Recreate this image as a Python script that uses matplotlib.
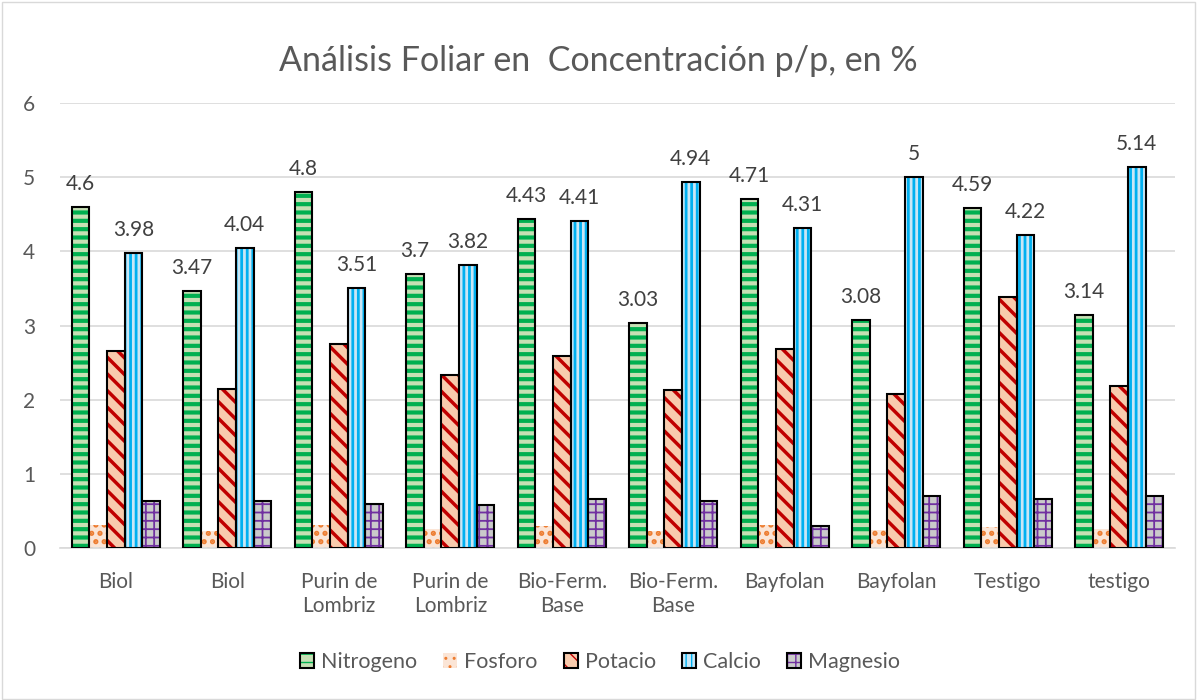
import matplotlib.pyplot as plt
from matplotlib.patches import Patch, Rectangle
import numpy as np

plt.rcParams['font.family'] = ['Lato', 'DejaVu Sans']

categorias = ["Biol", "Biol", "Purin de\nLombriz", "Purin de\nLombriz", "Bio-Ferm.\nBase",
              "Bio-Ferm.\nBase", "Bayfolan", "Bayfolan", "Testigo", "testigo"]
nitrogeno = [4.6, 3.47, 4.8, 3.7, 4.43, 3.03, 4.71, 3.08, 4.59, 3.14]
fosforo = [0.31, 0.23, 0.31, 0.26, 0.29, 0.23, 0.31, 0.24, 0.28, 0.25]
potacio = [2.66, 2.14, 2.75, 2.33, 2.59, 2.13, 2.68, 2.08, 3.38, 2.18]
calcio = [3.98, 4.04, 3.51, 3.82, 4.41, 4.94, 4.31, 5.0, 4.22, 5.14]
magnesio = [0.64, 0.63, 0.60, 0.58, 0.66, 0.63, 0.30, 0.70, 0.66, 0.70]

# nombre, valores, relleno, color trama, trama, grosor trama, borde negro, etiquetas
series = [
    ("Nitrogeno", nitrogeno, "#C6E0B4", "#00B050", "--", 3.0, True, True),
    ("Fosforo", fosforo, "#FBE5D6", "#ED7D31", "..", 2.5, False, False),
    ("Potacio", potacio, "#F8CBAD", "#C00000", "\\\\", 2.5, True, False),
    ("Calcio", calcio, "#C9E6F5", "#00B0F0", "|||", 2.0, True, True),
    ("Magnesio", magnesio, "#CACACA", "#7030A0", "++", 1.3, True, False),
]

fig = plt.figure(figsize=(11.97, 7), dpi=100)
ax = fig.add_axes([60 / 1197, 152 / 700, 1115 / 1197, 445 / 700])

x = np.arange(len(categorias))
w = 0.158
handles = []
for k, (nombre, vals, face, hcol, hatch, hlw, borde, etiquetas) in enumerate(series):
    pos = x + (k - 2) * w
    with plt.rc_context({'hatch.linewidth': hlw}):
        ax.bar(pos, vals, w, color=face, hatch=hatch, edgecolor=hcol, linewidth=0, zorder=2)
        h1 = Patch(facecolor=face, hatch=hatch, edgecolor=hcol, linewidth=0)
    if borde:
        ax.bar(pos, vals, w, fill=False, edgecolor="black", linewidth=1.5, zorder=3)
        h2 = Patch(fill=False, edgecolor="black", linewidth=1.5)
        handles.append((h1, h2))
    else:
        handles.append(h1)
    if etiquetas:
        for p, v in zip(pos, vals):
            ax.text(p, v + 0.23, f"{v:g}", ha="center", va="baseline", fontsize=15, color="#404040")

ax.set_xlim(-0.5, len(categorias) - 0.5)
ax.set_ylim(0, 6)
ax.set_yticks(range(0, 7))
ax.yaxis.grid(True, color="#D9D9D9", linewidth=1.2, zorder=0)
ax.set_axisbelow(True)
for s in ["top", "right", "left"]:
    ax.spines[s].set_visible(False)
ax.spines["bottom"].set_color("#D9D9D9")
ax.spines["bottom"].set_linewidth(1.2)
ax.set_xticks(x)
ax.set_xticklabels(categorias, linespacing=1.3)
ax.tick_params(axis="x", length=0, pad=17, labelsize=15, labelcolor="#595959")
ax.tick_params(axis="y", length=0, pad=26.5, labelsize=15, labelcolor="#595959")
for lbl in ax.get_yticklabels():
    lbl.set_horizontalalignment("left")

fig.text(0.5, 1 - 71 / 700, "Análisis Foliar en  Concentración p/p, en %", ha="center", va="baseline",
         fontsize=24.5, color="#595959")

fig.legend(handles, [s[0] for s in series], loc="center", bbox_to_anchor=(600 / 1197, 1 - 662 / 700),
           ncol=5, frameon=False, fontsize=15.5, labelcolor="#595959", handlelength=0.65,
           handleheight=0.65, handletextpad=0.33, columnspacing=1.2)

fig.patches.append(Rectangle((0.002, 0.002), 0.996, 0.995, transform=fig.transFigure,
                             fill=False, edgecolor="#D9D9D9", linewidth=1))

fig.savefig("out.png", dpi=100)
